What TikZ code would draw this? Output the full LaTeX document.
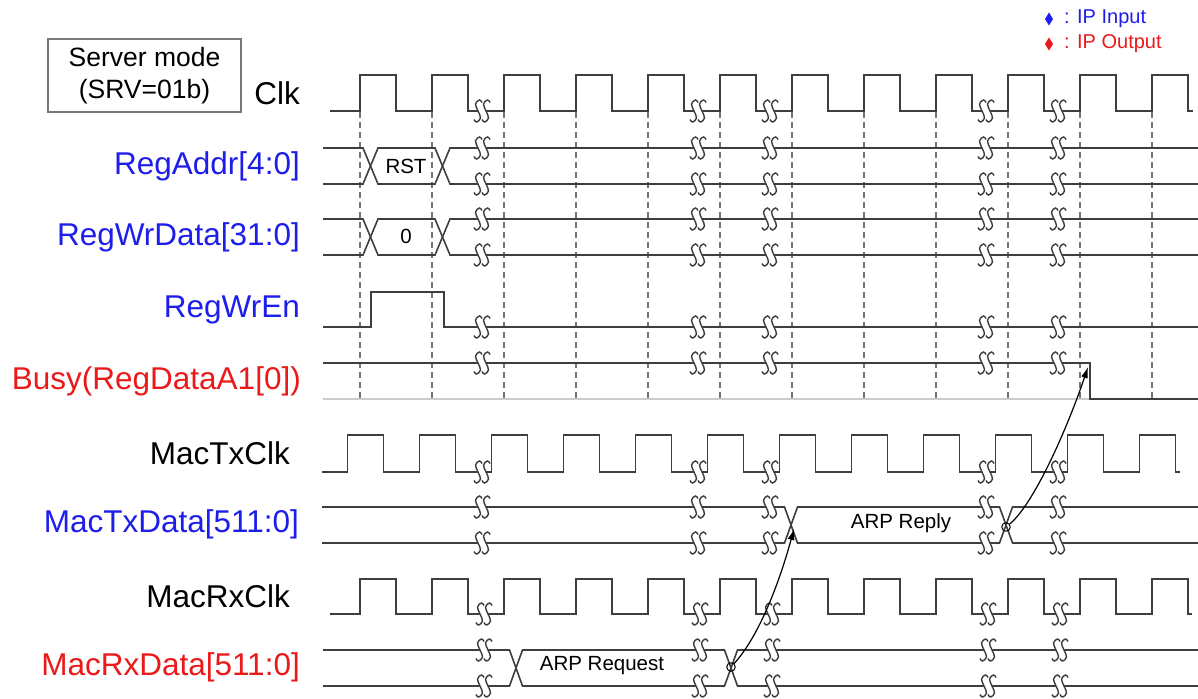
\documentclass[tikz,border=0pt]{standalone}
\usepackage{fontspec}
\setmainfont{Liberation Sans}
\usetikzlibrary{arrows.meta}
\definecolor{sigc}{RGB}{62,62,62}
\definecolor{lblue}{RGB}{30,30,235}
\definecolor{lred}{RGB}{235,25,25}
\definecolor{dashc}{RGB}{115,115,115}
\definecolor{boxc}{RGB}{120,120,120}
\newcommand\brkstroke[2]{%
  \draw[brkline] plot[smooth, tension=0.7] coordinates {(#1+4,#2-8.5) (#1+1.5,#2-11) (#1-2.5,#2-7) (#1,#2) (#1+2.5,#2+7) (#1-1.5,#2+11) (#1-4,#2+8.5)};
}
\newcommand\brkmark[2]{%
  \fill[white] (#1-4,#2-2.5) rectangle (#1+4,#2+2.5);
  \brkstroke{#1-4}{#2}
  \brkstroke{#1+4}{#2}
}
\tikzset{
  sig/.style={draw=sigc, line width=1.6pt, line join=miter},
  brkline/.style={draw=sigc, line width=1.4pt},
  vgrid/.style={draw=dashc, line width=1.4pt, dash pattern=on 6pt off 4pt},
  lbl/.style={anchor=east, inner sep=0pt, font=\fontsize{31.5}{36}\selectfont},
  dtxt/.style={inner sep=0pt, font=\fontsize{20.5}{24}\selectfont},
  legtxt/.style={anchor=west, inner sep=0pt, font=\fontsize{20}{24}\selectfont},
  ring/.style={circle, draw=black, line width=1pt, minimum size=8.5pt, inner sep=0pt},
  arr/.style={draw=black, line width=1.2pt, -{Latex[length=11pt,width=7pt]}}
}
\begin{document}
\begin{tikzpicture}[x=1pt,y=-1pt]
\useasboundingbox[fill=white] (0,0) rectangle (1198,698);

% mode box
\node[draw=boxc, line width=1.5pt, minimum width=193pt, minimum height=73pt, inner sep=0pt,
      align=center, font=\fontsize{26.5}{32}\selectfont] (mode) at (144.5,75.5) {Server mode\\(SRV=01b)};

% legend
\fill[lblue] (1049,12.5) -- (1053,19) -- (1049,25.5) -- (1045,19) -- cycle;
\node[legtxt, text=lblue] (legin) at (1064,19) {: IP Input};
\fill[lred] (1049,37.5) -- (1053,44) -- (1049,50.5) -- (1045,44) -- cycle;
\node[legtxt, text=lred] (legout) at (1064,44) {: IP Output};

% labels
\node[lbl] (lclk) at (300,93) {Clk};
\node[lbl, text=lblue] (laddr) at (300,166) {RegAddr[4:0]};
\node[lbl, text=lblue] (lwrd) at (300,237) {RegWrData[31:0]};
\node[lbl, text=lblue] (lwren) at (300,310) {RegWrEn};
\node[lbl, text=lred] (lbusy) at (301,381) {Busy(RegDataA1[0])};
\node[lbl] (ltxclk) at (290,453) {MacTxClk};
\node[lbl, text=lblue] (ltxd) at (299,524) {MacTxData[511:0]};
\node[lbl] (lrxclk) at (290,596) {MacRxClk};
\node[lbl, text=lred] (lrxd) at (300,667) {MacRxData[511:0]};

% dashed grid
\foreach \e in {360,432,...,1152} { \draw[vgrid] (\e,112) -- (\e,400); }

% Clk
\draw[sig] (330,111) \foreach \e in {360,432,...,1152} { -- (\e,111) -- (\e,75) -- (\e+36,75) -- (\e+36,111) } -- (1193,111);
\foreach \b in {482,698,770,986,1058} { \brkmark{\b}{111} }

% RegAddr
\draw[sig] (323,148) -- (363,148) -- (378,184) -- (435,184) -- (450,148) -- (1198,148);
\draw[sig] (323,184) -- (363,184) -- (378,148) -- (435,148) -- (450,184) -- (1198,184);
\foreach \b in {482,698,770,986,1058} { \brkmark{\b}{148} \brkmark{\b}{184} }
\node[dtxt] (rst) at (406,166) {RST};

% RegWrData
\draw[sig] (323,219) -- (363,219) -- (378,255) -- (435,255) -- (450,219) -- (1198,219);
\draw[sig] (323,255) -- (363,255) -- (378,219) -- (435,219) -- (450,255) -- (1198,255);
\foreach \b in {482,698,770,986,1058} { \brkmark{\b}{219} \brkmark{\b}{255} }
\node[dtxt] (zero) at (406,236) {0};

% RegWrEn
\draw[sig] (323,327) -- (371,327) -- (371,292) -- (444,292) -- (444,327) -- (1198,327);
\foreach \b in {482,698,770,986,1058} { \brkmark{\b}{327} }

% Busy
\draw[draw=black!20, line width=1.6pt] (323,399) -- (1090,399);
\draw[sig] (323,363) -- (1090,363) -- (1090,399) -- (1198,399);
\foreach \b in {482,698,770,986,1058} { \brkmark{\b}{363} }
\coordinate (busyfall) at (1088,367);

% MacTxClk
\draw[sig] (322,472) \foreach \e in {347.5,419.5,...,1140} { -- (\e,472) -- (\e,435) -- (\e+36,435) -- (\e+36,472) } -- (1180,472);
\foreach \b in {482,698,770,986,1058} { \brkmark{\b}{472} }

% MacTxData
\draw[sig] (322,507) -- (784.5,507) -- (797.5,543) -- (999.5,543) -- (1012.5,507) -- (1198,507);
\draw[sig] (322,543) -- (784.5,543) -- (797.5,507) -- (999.5,507) -- (1012.5,543) -- (1198,543);
\foreach \b in {482,698,770,986,1058} { \brkmark{\b}{507} \brkmark{\b}{543} }
\node[dtxt] (reply) at (901,523) {ARP Reply};
\coordinate (txX1) at (794,529);

% MacRxClk
\draw[sig] (330,614) \foreach \e in {360,432,...,1152} { -- (\e,614) -- (\e,579) -- (\e+36,579) -- (\e+36,614) } -- (1192,614);
\foreach \b in {484,700,772,988,1060} { \brkmark{\b}{614} }

% MacRxData
\draw[sig] (323,650) -- (509.5,650) -- (522.5,686) -- (724.5,686) -- (737.5,650) -- (1198,650);
\draw[sig] (323,686) -- (509.5,686) -- (522.5,650) -- (724.5,650) -- (737.5,686) -- (1198,686);
\foreach \b in {484,700,772,988,1060} { \brkmark{\b}{650} \brkmark{\b}{686} }
\node[dtxt] (req) at (602,666) {ARP Request};

% causality arrows
\node[ring] (c1) at (731,667) {};
\node[ring] (c2) at (1006,527) {};
\draw[arr] (c1) .. controls (760,635) and (780,580) .. (txX1);
\draw[arr] (c2) .. controls (1033,505) and (1066,432) .. (busyfall);
\end{tikzpicture}
\end{document}
